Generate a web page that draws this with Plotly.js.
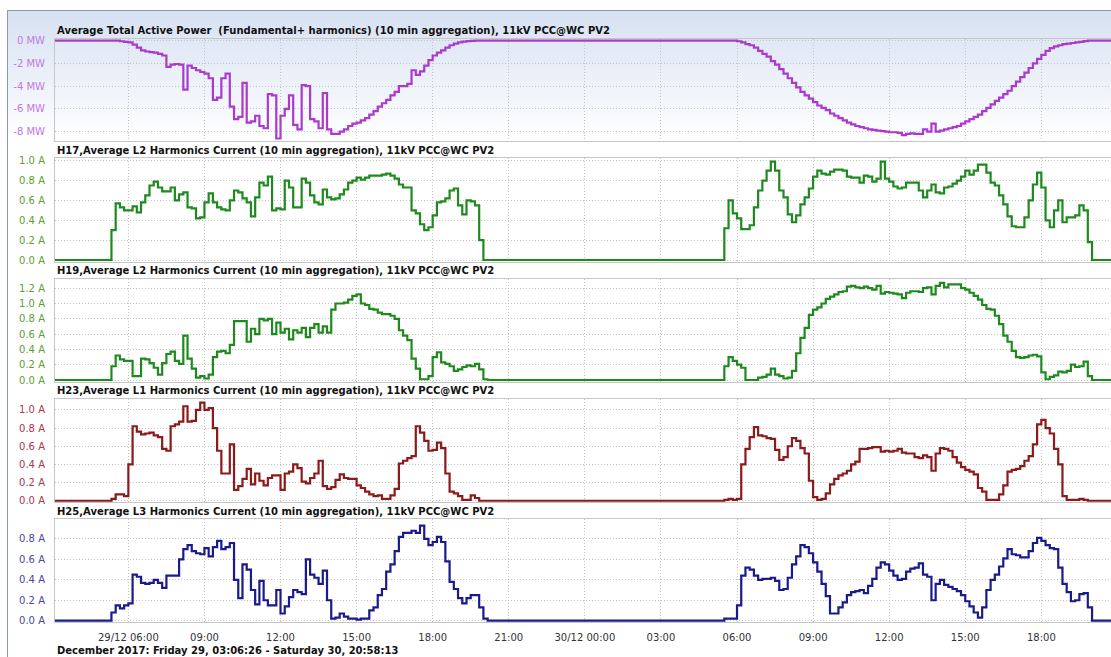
<!DOCTYPE html>
<html><head><meta charset="utf-8">
<script src="https://cdn.plot.ly/plotly-3.0.1.min.js"></script>
<style>
html,body{margin:0;padding:0;background:#fff;width:1111px;height:657px;overflow:hidden;}
#band{position:absolute;left:8px;top:11px;width:1103px;height:130px;background:linear-gradient(to bottom,#d7e1f2,#ffffff);}
#frame{position:absolute;left:7px;top:10px;width:1110px;height:660px;border-left:1px solid #8d99ad;border-top:1px solid #8d99ad;}
#chart{position:absolute;left:0;top:0;width:1111px;height:657px;}
</style></head><body>
<div id="band"></div><div id="frame"></div><div id="chart"></div>
<script>
// ---------- time base ----------
const startTime = '2017-12-29 03:06:26';
const endTime = '2017-12-30 20:58:13';
const rangeEnd = '2017-12-30 20:44:50';
function tenMinTimes(day, h, m, count) {
  const out = [];
  let t = h * 60 + m;
  for (let i = 0; i < count; i++, t += 10) {
    const hh = String(Math.floor(t / 60)).padStart(2, '0');
    const mm = String(t % 60).padStart(2, '0');
    out.push(day + ' ' + hh + ':' + mm);
  }
  return out;
}
const day1Times = tenMinTimes('2017-12-29', 5, 0, 92);   // 05:00 .. 20:10
const day2Times = tenMinTimes('2017-12-30', 5, 10, 91);  // 05:10 .. 20:10

// ---------- series values (10 min aggregation) ----------
const powerDay1 = [
0,0,0,0,-0.05,-0.1,
-0.15,-0.35,-0.6,-0.85,-0.95,-1.0,
-1.05,-1.15,-1.3,-2.3,-2.1,-2.05,
-2.1,-4.3,-2.2,-2.4,-2.6,-2.75,
-2.9,-3.3,-5.2,-5.0,-3.3,-2.9,
-5.8,-6.9,-6.7,-3.7,-7.2,-7.1,
-6.6,-7.5,-7.7,-4.7,-4.8,-8.6,
-6.6,-6.0,-4.8,-7.4,-7.8,-3.9,
-4.0,-6.9,-7.1,-7.7,-4.6,-7.8,
-8.2,-8.2,-8.0,-7.8,-7.5,-7.3,
-7.2,-7.0,-6.8,-6.5,-6.2,-5.8,
-5.5,-5.2,-4.8,-4.5,-4.0,-4.0,
-3.8,-2.6,-3.0,-2.7,-2.2,-1.7,
-1.3,-1.05,-0.85,-0.6,-0.4,-0.25,
-0.15,-0.08,-0.04,-0.02,0,0,
0,0];
const powerDay2 = [
0,0,0,0,0,
-0.05,-0.15,-0.3,-0.4,-0.6,-0.9,
-1.15,-1.4,-1.8,-2.1,-2.5,-2.9,
-3.3,-3.7,-4.1,-4.5,-4.8,-5.1,
-5.4,-5.7,-5.9,-6.1,-6.4,-6.6,
-6.8,-7.0,-7.2,-7.35,-7.5,-7.6,
-7.7,-7.8,-7.85,-7.9,-7.95,-8.0,
-8.05,-8.05,-8.1,-8.3,-8.2,-8.15,
-8.2,-8.2,-7.8,-8.0,-7.3,-8.0,
-7.9,-7.8,-7.7,-7.6,-7.5,-7.3,
-7.1,-6.9,-6.7,-6.5,-6.2,-5.9,
-5.6,-5.3,-5.0,-4.7,-4.4,-4.0,
-3.6,-3.2,-2.8,-2.4,-2.0,-1.6,
-1.25,-0.9,-0.65,-0.5,-0.4,-0.3,
-0.25,-0.2,-0.15,-0.1,-0.03,0,
0,0];

const h17Day1 = [
0,0,0.3,0.57,0.53,0.50,
0.50,0.54,0.48,0.58,0.65,0.75,
0.79,0.73,0.69,0.69,0.73,0.60,
0.66,0.68,0.53,0.52,0.42,0.43,
0.58,0.67,0.58,0.53,0.51,0.50,
0.60,0.70,0.68,0.62,0.58,0.44,
0.63,0.78,0.75,0.84,0.50,0.52,
0.51,0.80,0.73,0.53,0.53,0.82,
0.78,0.65,0.58,0.56,0.71,0.63,
0.61,0.62,0.66,0.71,0.78,0.80,
0.83,0.81,0.83,0.85,0.85,0.85,
0.86,0.87,0.85,0.82,0.76,0.73,
0.73,0.50,0.47,0.36,0.30,0.33,
0.45,0.58,0.59,0.62,0.70,0.72,
0.55,0.46,0.60,0.59,0.55,0.20,
0,0];
const h17Day2 = [
0,0,0.32,0.60,0.47,
0.42,0.31,0.31,0.35,0.53,0.70,
0.80,0.90,0.99,0.90,0.70,0.63,
0.46,0.38,0.45,0.56,0.63,0.72,
0.84,0.90,0.87,0.86,0.89,0.91,
0.91,0.90,0.84,0.83,0.83,0.78,
0.85,0.84,0.79,0.82,0.99,0.82,
0.79,0.74,0.72,0.73,0.78,0.78,
0.78,0.70,0.63,0.70,0.76,0.68,
0.67,0.73,0.74,0.77,0.80,0.84,
0.90,0.86,0.90,0.96,0.96,0.88,
0.78,0.75,0.65,0.56,0.44,0.34,
0.33,0.33,0.43,0.60,0.76,0.88,
0.73,0.40,0.33,0.50,0.60,0.38,
0.43,0.43,0.45,0.55,0.50,0.18,
0,0];

const h19Day1 = [
0,0,0.18,0.32,0.27,0.25,
0.25,0.05,0.05,0.28,0.27,0.22,
0.16,0.07,0.22,0.34,0.37,0.25,
0.21,0.58,0.28,0.15,0.03,0.05,
0.02,0.07,0.30,0.37,0.38,0.35,
0.46,0.77,0.77,0.77,0.50,0.67,
0.60,0.80,0.78,0.80,0.60,0.75,
0.62,0.67,0.53,0.65,0.62,0.68,
0.56,0.68,0.73,0.62,0.70,0.62,
0.92,1.00,1.00,1.01,1.05,1.10,
1.12,1.00,0.98,0.93,0.92,0.88,
0.86,0.86,0.84,0.80,0.65,0.58,
0.52,0.28,0.15,0.01,0.01,0.05,
0.30,0.36,0.23,0.21,0.18,0.12,
0.14,0.17,0.19,0.18,0.21,0.14,
0.01,0];
const h19Day2 = [
0,0,0.18,0.30,0.25,
0.20,0.16,0,0,0,0.03,
0.04,0.07,0.15,0.07,0.05,0.02,
0.03,0.12,0.35,0.55,0.68,0.85,
0.92,0.95,1.00,1.06,1.09,1.12,
1.15,1.16,1.22,1.23,1.21,1.20,
1.22,1.20,1.18,1.23,1.13,1.15,
1.14,1.13,1.12,1.07,1.14,1.16,
1.16,1.15,1.20,1.21,1.12,1.23,
1.27,1.21,1.25,1.25,1.25,1.20,
1.18,1.14,1.10,1.05,0.98,0.93,
0.92,0.84,0.73,0.58,0.50,0.38,
0.30,0.29,0.30,0.32,0.33,0.31,
0.10,0.01,0.04,0.06,0.11,0.10,
0.12,0.20,0.17,0.18,0.24,0.05,
0,0];

const h23Day1 = [
0,0,0.02,0.07,0.07,0.05,
0.40,0.82,0.76,0.73,0.74,0.75,
0.72,0.70,0.57,0.55,0.82,0.84,
0.87,1.04,0.87,0.88,1.00,1.08,
1.00,1.02,0.80,0.55,0.30,0.30,
0.62,0.12,0.16,0.24,0.35,0.18,
0.30,0.22,0.17,0.25,0.28,0.28,
0.12,0.30,0.32,0.40,0.36,0.21,
0.19,0.25,0.30,0.44,0.16,0.13,
0.15,0.23,0.29,0.25,0.24,0.24,
0.17,0.14,0.10,0.07,0.05,0.06,
0.02,0.02,0.06,0.13,0.41,0.44,
0.47,0.49,0.82,0.75,0.66,0.55,
0.56,0.64,0.58,0.30,0.10,0.08,
0.05,0.01,0.01,0.06,0.03,0,
0,0];
const h23Day2 = [
0,0,0.01,0.02,0.01,
0.02,0.40,0.57,0.70,0.81,0.72,
0.71,0.69,0.68,0.56,0.45,0.48,
0.60,0.69,0.66,0.58,0.52,0.22,
0.04,0.01,0.02,0.08,0.18,0.24,
0.28,0.30,0.33,0.40,0.43,0.57,
0.57,0.58,0.59,0.59,0.54,0.55,
0.54,0.55,0.57,0.53,0.52,0.52,
0.48,0.47,0.50,0.48,0.33,0.52,
0.58,0.57,0.55,0.48,0.42,0.37,
0.34,0.32,0.29,0.14,0.10,0.01,
0.01,0.01,0.07,0.17,0.32,0.34,
0.35,0.38,0.44,0.49,0.62,0.84,
0.89,0.80,0.74,0.57,0.40,0.05,
0.01,0.01,0.01,0.02,0.01,0,
0,0];

const h25Day1 = [
0,0,0.08,0.15,0.12,0.15,
0.17,0.45,0.43,0.37,0.36,0.37,
0.40,0.37,0.32,0.44,0.44,0.44,
0.60,0.70,0.74,0.68,0.66,0.65,
0.71,0.63,0.72,0.78,0.70,0.72,
0.76,0.40,0.22,0.55,0.50,0.30,
0.16,0.39,0.20,0.15,0.15,0.30,
0.07,0.14,0.23,0.30,0.28,0.26,
0.60,0.45,0.42,0.36,0.49,0.20,
0.02,0.03,0.07,0.04,0.02,0.02,
0.01,0.02,0.02,0.10,0.13,0.25,
0.31,0.48,0.55,0.68,0.82,0.86,
0.86,0.88,0.86,0.93,0.80,0.74,
0.77,0.82,0.77,0.58,0.38,0.31,
0.22,0.17,0.22,0.25,0.25,0.13,
0.02,0];
const h25Day2 = [
0,0,0.02,0.02,0.02,
0.15,0.44,0.52,0.50,0.44,0.40,
0.41,0.41,0.42,0.39,0.30,0.31,
0.42,0.55,0.63,0.74,0.72,0.66,
0.57,0.48,0.36,0.24,0.07,0.07,
0.13,0.18,0.25,0.28,0.29,0.30,
0.27,0.34,0.41,0.52,0.57,0.55,
0.49,0.44,0.40,0.41,0.48,0.51,
0.52,0.56,0.45,0.43,0.20,0.36,
0.40,0.35,0.33,0.31,0.29,0.25,
0.19,0.14,0.08,0.03,0.13,0.30,
0.40,0.45,0.53,0.61,0.70,0.65,
0.64,0.62,0.62,0.68,0.76,0.81,
0.78,0.74,0.71,0.70,0.52,0.36,
0.28,0.19,0.20,0.26,0.27,0.13,
0,0];

// ---------- tick labels ----------
const xTickVals = ['2017-12-29 06:00','2017-12-29 09:00','2017-12-29 12:00','2017-12-29 15:00','2017-12-29 18:00','2017-12-29 21:00',
  '2017-12-30 00:00','2017-12-30 03:00','2017-12-30 06:00','2017-12-30 09:00','2017-12-30 12:00','2017-12-30 15:00','2017-12-30 18:00'];
const xTickText = ['29/12 06:00','09:00','12:00','15:00','18:00','21:00','30/12 00:00','03:00','06:00','09:00','12:00','15:00','18:00'];
const powerTicks = [0,-2,-4,-6,-8];
const h17Ticks = [0,0.2,0.4,0.6,0.8,1.0];
const h19Ticks = [0,0.2,0.4,0.6,0.8,1.0,1.2];
const h23Ticks = [0,0.2,0.4,0.6,0.8,1.0];
const h25Ticks = [0,0.2,0.4,0.6,0.8];

const titles = [
  'Average Total Active Power \u00a0(Fundamental+ harmonics) (10 min aggregation), 11kV PCC@WC PV2',
  'H17,Average L2 Harmonics Current (10 min aggregation), 11kV PCC@WC PV2',
  'H19,Average L2 Harmonics Current (10 min aggregation), 11kV PCC@WC PV2',
  'H23,Average L1 Harmonics Current (10 min aggregation), 11kV PCC@WC PV2',
  'H25,Average L3 Harmonics Current (10 min aggregation), 11kV PCC@WC PV2'
];
const footer = 'December 2017: Friday 29, 03:06:26 - Saturday 30, 20:58:13';

// ---------- build ----------
const seriesDays = [[powerDay1,powerDay2],[h17Day1,h17Day2],[h19Day1,h19Day2],[h23Day1,h23Day2],[h25Day1,h25Day2]];
seriesDays.forEach((s,i)=>{ if(s[0].length!==92||s[1].length!==91) throw new Error('len mismatch '+i+' '+s[0].length+' '+s[1].length); });
const xAll = [startTime].concat(day1Times, day2Times, [endTime]);

const lineColors = ['#aa3acb','#1e8a1e','#1e8a1e','#8b1a1a','#1a1a8b'];
const tickColors = ['#c27ae0','#5d9f30','#5d9f30','#a33b4b','#4747a3'];
const tickSets = [powerTicks,h17Ticks,h19Ticks,h23Ticks,h25Ticks];
const units = [' MW',' A',' A',' A',' A'];
const ranges = [[-8.82,0.15],[-0.02,1.027],[-0.026,1.32],[-0.014,1.12],[-0.013,0.995]];
const H = 657, W = 1111;
const px = [[39,141],[158,262],[279,382],[399,502],[519,622]];
const titleY = [30,150,270,390.5,511];

const FONT = 'DejaVu Sans, Verdana, sans-serif';
const GRID = '#c4c4c4', GRIDDASH = '1px,2px';
const traces = [];
const layout = {
  width: W, height: H, margin:{l:0,r:0,t:0,b:0},
  paper_bgcolor:'rgba(0,0,0,0)', plot_bgcolor:'rgba(0,0,0,0)',
  showlegend:false, annotations:[], font:{family:FONT}
};
for (let i=0;i<5;i++){
  const k = i===0?'':String(i+1);
  traces.push({
    x: xAll, y: [0].concat(seriesDays[i][0], seriesDays[i][1], [0]),
    type:'scatter', mode:'lines', line:{color:lineColors[i], width:2.2, shape:'hv'},
    xaxis:'x'+k, yaxis:'y'+k, hoverinfo:'skip'
  });
  layout['xaxis'+k] = {
    type:'date', domain:[55/W,1], anchor:'y'+k, range:[startTime,rangeEnd],
    tickmode:'array', tickvals:xTickVals, ticktext:xTickText, showticklabels: i===4,
    ticks:'', ticklabelstandoff:6,
    showgrid:true, gridcolor:GRID, griddash:GRIDDASH, gridwidth:1,
    showline:true, linecolor:'#c6c6c6', linewidth:1, mirror:true, zeroline:false,
    tickfont:{family:FONT,size:10,color:'#333333'}, fixedrange:true
  };
  if (i>0) layout['xaxis'+k].matches = 'x';
  layout['yaxis'+k] = {
    domain:[(H-px[i][1])/H,(H-px[i][0])/H], anchor:'x'+k, range:ranges[i],
    tickmode:'array', tickvals:tickSets[i], ticktext:tickSets[i].map(v=> (i===0? String(v) : v.toFixed(1)) + units[i]),
    ticks:'', ticklabelstandoff:7,
    showgrid:true, gridcolor:GRID, griddash:GRIDDASH, gridwidth:1,
    showline:true, linecolor:'#c6c6c6', linewidth:1, zeroline:false,
    tickfont:{family:FONT,size:10,color:tickColors[i]}, fixedrange:true
  };
  layout.annotations.push({
    text:titles[i], xref:'paper', yref:'paper', x:55/W, y:(H-titleY[i])/H,
    xanchor:'left', yanchor:'middle', showarrow:false,
    font:{family:FONT,size:10,color:'#111111',weight:'bold'}
  });
}
layout.annotations.push({
  text:footer, xref:'paper', yref:'paper', x:55/W, y:(H-650)/H,
  xanchor:'left', yanchor:'middle', showarrow:false,
  font:{family:FONT,size:10,color:'#111111',weight:'bold'}
});

Plotly.newPlot('chart', traces, layout, {displayModeBar:false, staticPlot:true});
</script></body></html>
